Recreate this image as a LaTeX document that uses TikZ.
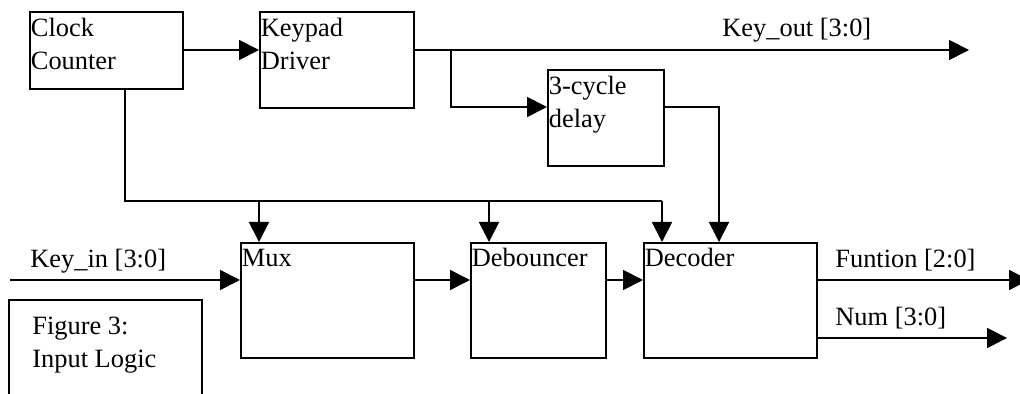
\documentclass[tikz,border=0pt]{standalone}
\usepackage{fontspec}
\setmainfont{Liberation Serif}
\usetikzlibrary{arrows.meta,calc}

\tikzset{
  blk/.style={draw, line width=0.9pt, inner sep=0pt, anchor=north west},
  wire/.style={line width=0.9pt},
  sig/.style={wire, -{Triangle[length=10pt,width=10pt]}},
  lbl/.style={inner sep=0pt, anchor=base west,
    font=\fontsize{13.2}{16.5}\selectfont},
}
% two-line block caption, first baseline at the node's base anchor
\newcommand{\twoline}[2]{\begin{tabular}[t]{@{}l@{}}#1\\#2\end{tabular}}

\begin{document}
\begin{tikzpicture}[x=0.5pt, y=-0.5pt]
\useasboundingbox (0,0) rectangle (1020,394);
\clip (0,0) rectangle (1020,394);
\fill[white] (0,0) rectangle (1020,394);

% blocks (sizes in px of the 1020x394 canvas)
\node[blk, minimum width=76.5pt, minimum height=38.5pt] (clk) at (29,11) {};
\node[blk, minimum width=77pt,   minimum height=48pt]   (kpd) at (259,11) {};
\node[blk, minimum width=58pt,   minimum height=48pt]   (dly) at (547,69) {};
\node[blk, minimum width=86.5pt, minimum height=57.5pt] (mux) at (240,242) {};
\node[blk, minimum width=67.5pt, minimum height=57.5pt] (deb) at (470,242) {};
\node[blk, minimum width=86.5pt, minimum height=57.5pt] (dec) at (643,242) {};

% block captions
\node[lbl] (clk-t) at ($(clk.north west)+(1.5,26)$) {\twoline{Clock}{Counter}};
\node[lbl] (kpd-t) at ($(kpd.north west)+(1.5,26)$) {\twoline{Keypad}{Driver}};
\node[lbl] (dly-t) at ($(dly.north west)+(1.5,26)$) {\twoline{3-cycle}{delay}};
\node[lbl] (mux-t) at ($(mux.north west)+(1.5,25)$) {Mux};
\node[lbl] (deb-t) at ($(deb.north west)+(1.5,25)$) {Debouncer};
\node[lbl] (dec-t) at ($(dec.north west)+(1.5,25)$) {Decoder};

% figure caption box, open at the lower edge
\draw[wire] (9,398) -- (9,300) -- (202,300) -- (202,398);
\node[lbl] (fig-t) at (32,335) {\twoline{Figure 3:}{Input Logic}};

% junctions and free ends
\coordinate (kin)  at (10,280);
\coordinate (kout) at (969,50);
\coordinate (fout) at (1029,280);
\coordinate (nout) at (1007,338);
\coordinate (tap)  at (451,50);
\coordinate (bus)  at (125,201);
\coordinate (busE) at (662,201);
\coordinate (dlyc) at (719,107);

% clock counter to keypad driver
\draw[sig] (clk.east |- 0,50) -- (kpd.west |- 0,50);
% keypad output and tap to the delay
\draw[sig] (kpd.east |- 0,50) -- (kout);
\draw[sig] (tap) -- (tap |- 0,107) -- (dly.west |- 0,107);
% delay to decoder
\draw[sig] (dly.east |- 0,107) -- (dlyc) -- (dlyc |- dec.north);
% clock bus
\draw[wire] (clk.south -| bus) -- (bus) -- (busE);
\draw[sig] (bus -| 259,0) -- (259,0 |- mux.north);
\draw[sig] (bus -| 489,0) -- (489,0 |- deb.north);
\draw[sig] (busE) -- (busE |- dec.north);
% data path
\draw[sig] (kin) -- (mux.west |- kin);
\draw[sig] (mux.east |- kin) -- (deb.west |- kin);
\draw[sig] (deb.east |- kin) -- (dec.west |- kin);
\draw[sig] (dec.east |- fout) -- (fout);
\draw[sig] (dec.east |- nout) -- (nout);

% signal names
\node[lbl] (kout-t) at (722,37)  {Key\_out [3:0]};
\node[lbl] (kin-t)  at (30,268)  {Key\_in [3:0]};
\node[lbl] (fout-t) at (835,268) {Funtion [2:0]};
\node[lbl] (nout-t) at (835,326) {Num [3:0]};
\end{tikzpicture}
\end{document}
